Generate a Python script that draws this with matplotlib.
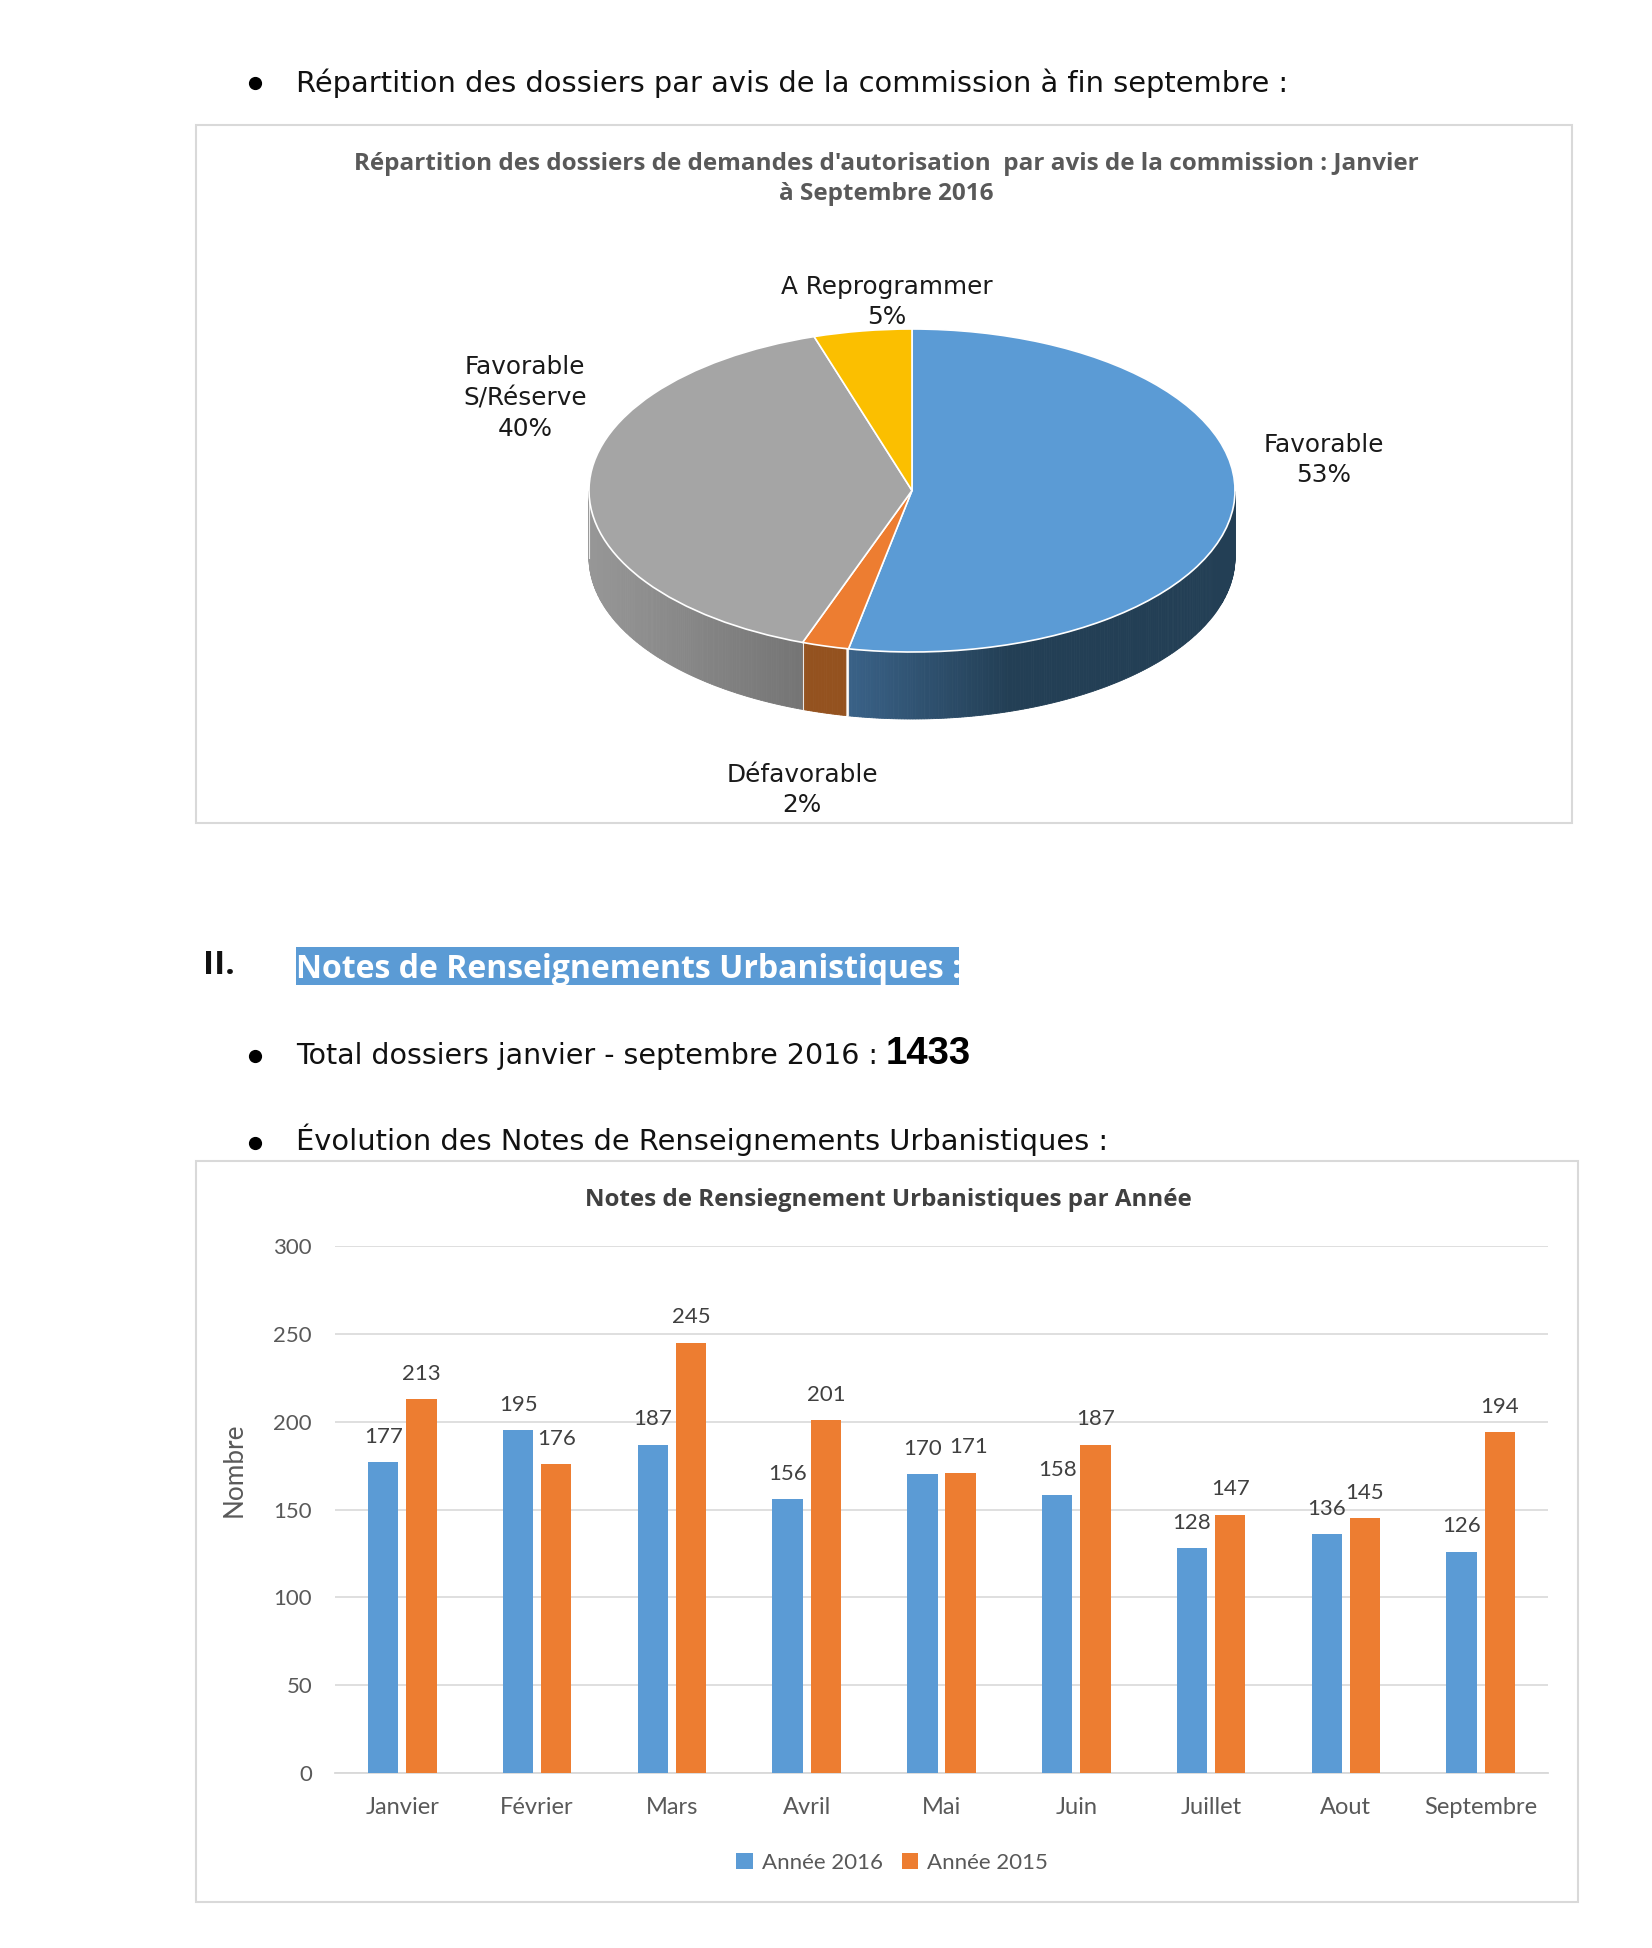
# Recreates the report page: pie by commission opinion, bars by month

import numpy as np
from matplotlib import pyplot as plt
from matplotlib.patches import Rectangle

# - Data

pie_labels = ["Favorable", "Défavorable", "Favorable\nS/Réserve", "A Reprogrammer"]
pie_shares = [53.15, 2.35, 39.6, 4.9]
pie_colors = ["#5b9bd5", "#ed7d31", "#a5a5a5", "#fbbf00"]

months = ["Janvier", "Février", "Mars", "Avril", "Mai", "Juin", "Juillet", "Aout", "Septembre"]
notes_2016 = [177, 195, 187, 156, 170, 158, 128, 136, 126]
notes_2015 = [213, 176, 245, 201, 171, 187, 147, 145, 194]

y_ticks = [0, 50, 100, 150, 200, 250, 300]

# - Layout

W, H = 1652, 1948
PAGE_FONT = "DejaVu Sans"
TITLE_FONT = "Open Sans"
CHART_FONT = "Lato"
BLUE, ORANGE = "#5b9bd5", "#ed7d31"

fig = plt.figure(figsize=(W / 100, H / 100), dpi=100, facecolor="white")


def axes_px(left, top, right, bottom, **kwargs):
    """Axes placed from pixel edges of the page"""
    return fig.add_axes([left / W, 1 - bottom / H, (right - left) / W, (bottom - top) / H], **kwargs)


def mix(col_a, col_b, t):
    a = np.array(plt.matplotlib.colors.to_rgb(col_a))
    b = np.array(plt.matplotlib.colors.to_rgb(col_b))
    return tuple(a + (b - a) * min(max(t, 0), 1))


# Page layer, in pixels
page = axes_px(0, 0, W, H)
page.set_xlim(0, W)
page.set_ylim(H, 0)
page.axis("off")

page.add_patch(Rectangle((196, 125), 1375.5, 698, fc="white", ec="#d9d9d9", lw=1.5))
page.add_patch(Rectangle((196, 1161), 1381.5, 741, fc="white", ec="#d9d9d9", lw=1.5))
page.add_patch(Rectangle((296, 947), 663, 38, fc=BLUE, ec="none"))


def body(x, y, s, size=20.8, **kwargs):
    kwargs.setdefault("family", PAGE_FONT)
    kwargs.setdefault("color", "#111111")
    page.text(x, y, s, size=size, va="center", **kwargs)


for y in [83, 1056, 1143]:
    page.plot([255], [y], "o", ms=8.5, color="black")

body(296, 83, "Répartition des dossiers par avis de la commission à fin septembre :")
body(203, 966, "II.", size=24, weight="bold", family=TITLE_FONT)
body(296, 969, "Notes de Renseignements Urbanistiques :", size=23, weight="bold", color="white", family=TITLE_FONT)
body(296, 1056, "Total dossiers janvier - septembre 2016 : ", size=20.5)
body(886, 1054, "1433", size=27.5, weight="bold", color="black", family="Liberation Sans")
body(296, 1140, "Évolution des Notes de Renseignements Urbanistiques :")

page.text(886, 179, "Répartition des dossiers de demandes d'autorisation  par avis de la commission : Janvier\nà Septembre 2016",
          ha="center", va="center", size=17.5, weight="bold", color="#595959", family=TITLE_FONT, linespacing=1.3)
page.text(888, 1200, "Notes de Rensiegnement Urbanistiques par Année",
          ha="center", va="center", size=17.4, weight="bold", color="#404040", family=TITLE_FONT)

# - Pie, squashed to an ellipse, with the rim drawn under it

cx, cy, rx, ry, depth_px = 912, 490.5, 323, 161.5, 67
pie_ax = axes_px(cx - 1.25 * rx, cy - 1.25 * ry, cx + 1.25 * rx, cy + 1.25 * ry + depth_px + 20)
pie_ax.set_facecolor("none")

wedges, _ = pie_ax.pie(pie_shares, colors=pie_colors, startangle=90, counterclock=False,
                       wedgeprops={"edgecolor": "white", "linewidth": 1.2, "zorder": 3})
pie_ax.set_aspect("auto")
pie_ax.set_xlim(-1.25, 1.25)
pie_ax.set_ylim(-1.25 - (depth_px + 20) / ry, 1.25)

depth = depth_px / ry
rim_ranges = {0: ("#3a6288", "#233f55", -0.20, 0.30),
              1: ("#94521f", "#94521f", 0, 1),
              2: ("#979797", "#707070", -1.0, -0.25)}
edges = 90 - np.cumsum([0] + pie_shares) * 3.6
for i, (left_col, right_col, x0, x1) in rim_ranges.items():
    thetas = np.radians(np.arange(edges[i + 1], edges[i] + 0.01, 0.5))
    thetas = thetas[np.sin(thetas) <= 0]
    for t0, t1 in zip(thetas[:-1], thetas[1:]):
        xs = [np.cos(t0), np.cos(t1), np.cos(t1), np.cos(t0)]
        ys = [np.sin(t0), np.sin(t1), np.sin(t1) - depth, np.sin(t0) - depth]
        col = mix(left_col, right_col, ((xs[0] + xs[1]) / 2 - x0) / (x1 - x0))
        pie_ax.fill(xs, ys, color=col, lw=0.6, zorder=1)
    t_end = thetas[0]
    pie_ax.plot([np.cos(t_end)] * 2, [np.sin(t_end), np.sin(t_end) - depth], color="#e8e8e8", lw=0.8, zorder=2)

label_pos = [(1324, 460), (802, 790), (525, 398), (887, 302)]
for name, share, (lx, ly) in zip(pie_labels, pie_shares, label_pos):
    page.text(lx, ly, f"{name}\n{share:.0f}%", ha="center", va="center", size=17.8, color="#1a1a1a",
              family=PAGE_FONT, linespacing=1.36)

# - Bars

ax = axes_px(335, 1246, 1548, 1773)
ax.set_facecolor("none")
x = np.arange(len(months))
bar_w, shift = 0.225, 0.142
bars_2016 = ax.bar(x - shift, notes_2016, bar_w, color=BLUE, label="Année 2016", zorder=3)
bars_2015 = ax.bar(x + shift, notes_2015, bar_w, color=ORANGE, label="Année 2015", zorder=3)
ax.bar_label(bars_2016, padding=11, size=16, color="#404040", family=CHART_FONT, zorder=4)
labels_2015 = ax.bar_label(bars_2015, padding=11, size=16, color="#404040", family=CHART_FONT, zorder=4)

# The May label sits off its bar so it clears the 2016 one
may_label = labels_2015[months.index("Mai")]
may_label.xyann = (may_label.xyann[0] + 6, may_label.xyann[1])

ax.set_xlim(-0.5, len(months) - 0.5)
ax.set_ylim(0, 300)
ax.set_yticks(y_ticks)
ax.set_xticks(x, months)
ax.tick_params(axis="x", length=0, labelsize=17, labelcolor="#595959", pad=17)
ax.tick_params(axis="y", length=0, labelsize=16, labelcolor="#595959", pad=16.5)
for lab in ax.get_xticklabels() + ax.get_yticklabels():
    lab.set_family(CHART_FONT)
ax.grid(axis="y", color="#dcdcdc", lw=1.3, zorder=0)
ax.set_axisbelow(True)
for side in ["top", "right", "left"]:
    ax.spines[side].set_visible(False)
ax.spines["bottom"].set_color("#d9d9d9")
ax.spines["bottom"].set_linewidth(1.3)

page.text(234, 1470, "Nombre", rotation=90, ha="center", va="center", size=18.8, color="#595959", family=CHART_FONT)

ax.legend(loc="center", bbox_to_anchor=(892 / W, 1 - 1863 / H), bbox_transform=fig.transFigure, ncol=2,
          frameon=False, prop={"family": CHART_FONT, "size": 16}, labelcolor="#595959",
          handlelength=0.75, handleheight=0.75, handletextpad=0.4, columnspacing=0.85)

fig.savefig("out.png", dpi=100)
